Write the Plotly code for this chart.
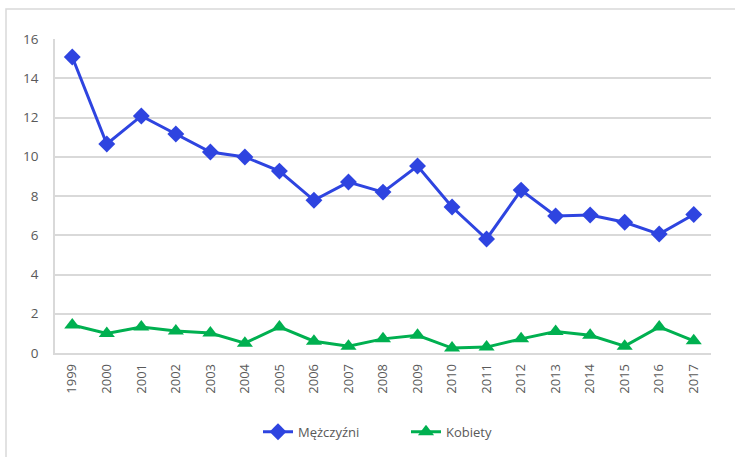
import plotly.graph_objects as go

years = [str(y) for y in range(1999, 2018)]
men = [15.08, 10.65, 12.08, 11.16, 10.24, 9.99, 9.27, 7.78, 8.71, 8.2, 9.53, 7.44, 5.81, 8.3, 6.98, 7.03, 6.66, 6.06, 7.06]
women = [1.43, 1.0, 1.32, 1.12, 1.02, 0.5, 1.33, 0.6, 0.35, 0.72, 0.9, 0.25, 0.3, 0.72, 1.1, 0.9, 0.35, 1.33, 0.62]
y_ticks = [0, 2, 4, 6, 8, 10, 12, 14, 16]

fig = go.Figure()
fig.add_trace(go.Scatter(x=years, y=men, name="Mężczyźni", mode="lines+markers",
                         line=dict(color="#2E44E0", width=3),
                         marker=dict(symbol="diamond", size=13, color="#2E44E0")))
fig.add_trace(go.Scatter(x=years, y=women, name="Kobiety", mode="lines+markers",
                         line=dict(color="#00B050", width=3),
                         marker=dict(symbol="triangle-up", size=14, color="#00B050")))

fig.update_layout(
    width=735, height=457,
    margin=dict(l=55, r=24, t=39, b=104, autoexpand=False),
    paper_bgcolor="white", plot_bgcolor="white",
    font=dict(family="Open Sans, Liberation Sans, sans-serif", size=13, color="#595959"),
    showlegend=True,
    legend=dict(orientation="h", x=258 / 735, xanchor="left", xref="container",
                y=0.055, yanchor="middle", yref="container",
                entrywidth=103, entrywidthmode="pixels",
                font=dict(size=13, color="#595959")),
    xaxis=dict(type="category", range=[-0.5, 18.5], tickangle=-90, showgrid=False, showline=True,
               linecolor="#d9d9d9", linewidth=1.5, ticks="", tickfont=dict(size=13),
               ticklabelstandoff=4, automargin=False),
    yaxis=dict(range=[0, 16], tickvals=y_ticks, showgrid=True, gridcolor="#d9d9d9",
               gridwidth=1.5, showline=True, linecolor="#d9d9d9", linewidth=1.5,
               zeroline=False, ticks="", tickfont=dict(size=13.5), ticklabelstandoff=12,
               automargin=False),
    shapes=[dict(type="rect", xref="paper", yref="paper", x0=-0.0747, x1=1.06,
                 y0=-0.4, y1=1.0955, line=dict(color="#d9d9d9", width=1.5))],
)

fig.write_html("out.html", post_script="document.body.style.margin='0';",
               config={"displayModeBar": False})
